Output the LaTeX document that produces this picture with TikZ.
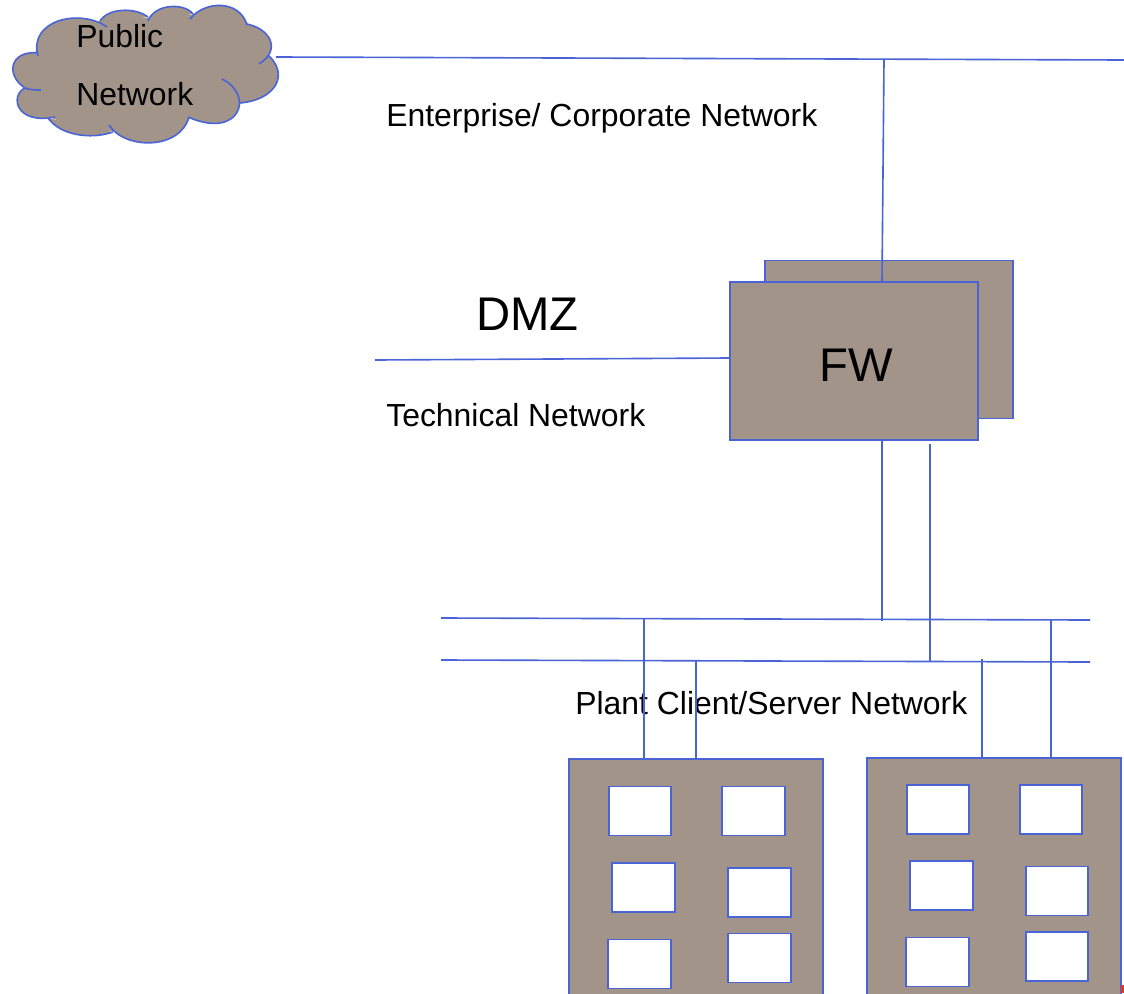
\documentclass[tikz,border=0pt]{standalone}
\usepackage{fontspec}
\setmainfont{Liberation Sans}
\definecolor{netblue}{HTML}{4A64D8}
\definecolor{netbrown}{HTML}{A29488}
\definecolor{netred}{HTML}{E0391E}
\tikzset{
    netline/.style={draw=netblue, line width=1.15pt},
    unit/.style={netline, fill=netbrown, inner sep=0cm, outer sep=0cm},
    firewall/.style={unit, minimum width=6.2cm, minimum height=3.95cm},
    building/.style={unit, minimum width=6.35cm, minimum height=7.5cm},
    window/.style={netline, fill=white, inner sep=0cm, outer sep=0cm, minimum width=1.56cm, minimum height=1.23cm},
    label/.style={anchor=base west, inner sep=0cm, font=\fontsize{22.7pt}{24pt}\selectfont},
    biglabel/.style={anchor=base west, inner sep=0cm, font=\fontsize{33.6pt}{36pt}\selectfont},
}
\begin{document}
\begin{tikzpicture}[x=0.025cm, y=-0.025cm]
    \clip (0,0) rectangle (1124,993);
    % cloud
    \fill[netbrown] (26,88) -- (18,70) -- (48,38) -- (75,26) -- (100,21) -- (124,15) -- (148,18) -- (170,12) -- (193,15) -- (220,10) -- (240,15) -- (262,38) -- (272,75) -- (252,96) -- (238,104) -- (230,112) -- (215,116) -- (188,118) -- (150,135) -- (113,131) -- (80,130) -- (50,117) -- (40,115) -- (24,104) -- cycle;
    \draw[netline, fill=netbrown] (38,56) .. controls (28,20) and (80,8) .. (107,27)
        (100,21) .. controls (108,8) and (135,7) .. (148,17)
        (148,21) .. controls (155,3) and (185,3) .. (193,14)
        (190,19) .. controls (205,0) and (240,0) .. (247,25)
        (246,24) .. controls (270,28) and (282,50) .. (259,64)
        (268,55) .. controls (290,75) and (275,100) .. (240,103)
        (222,79) .. controls (255,95) and (240,140) .. (188,117)
        (189,117) .. controls (180,150) and (125,150) .. (109,125)
        (113,132) .. controls (90,140) and (60,135) .. (48,118)
        (55,117) .. controls (15,125) and (10,95) .. (25,88) .. controls (30,90) and (35,90) .. (41,90)
        (25,88) .. controls (5,75) and (10,50) .. (38,53);
    \node[label] at (76,47) (PUB) {Public};
    \node[label] at (76,105) (NET) {Network};

    % firewall
    \node[firewall] at (889,339.5) (FWB) {};
    \node[firewall] at (854,361) (FW) {};
    \node[biglabel] at (819,381) (FWT) {FW};
    \node[biglabel] at (476,330) (DMZ) {DMZ};
    \node[label] at (386,126) (ENT) {Enterprise/ Corporate Network};
    \node[label] at (386,426) (TEC) {Technical Network};
    \node[label] at (575,714) (PLT) {Plant Client/Server Network};

    % buildings
    \node[building] at (696,909) (BL) {};
    \node[building] at (994,908) (BR) {};
    \node[window] at (640,811) (WA) {};
    \node[window] at (753.5,811) (WB) {};
    \node[window] at (643.5,887.5) (WC) {};
    \node[window] at (759.5,892.5) (WD) {};
    \node[window] at (639.5,964) (WE) {};
    \node[window] at (759.5,958) (WF) {};
    \node[window] at (938,809.5) (WG) {};
    \node[window] at (1051,809.5) (WH) {};
    \node[window] at (941.5,885.5) (WI) {};
    \node[window] at (1057,891) (WJ) {};
    \node[window] at (937.5,962) (WK) {};
    \node[window] at (1057,956.5) (WL) {};
    \fill[netred] (1121,985) rectangle (1124,993);

    % network lines
    \coordinate (TOPL) at (276,57);
    \coordinate (TOPR) at (1124,60);
    \coordinate (TOPT) at (884,60);
    \coordinate (DMZL) at (375,360);
    \coordinate (BUSAL) at (441,618);
    \coordinate (BUSAR) at (1090,620);
    \coordinate (BUSBL) at (441,660);
    \coordinate (BUSBR) at (1090,662);
    \coordinate (TAPA) at (882,621);
    \coordinate (TAPB) at (930,662);
    \coordinate (TAPBT) at (930,444);
    \coordinate (TAPC) at (644,619);
    \coordinate (TAPD) at (696,661);
    \coordinate (TAPE) at (982,659);
    \coordinate (TAPF) at (1051,620);
    \draw[netline] (TOPL) -- (TOPR);
    \draw[netline] (TOPT) -- (FW.north -| 882,0);
    \draw[netline] (DMZL) -- (FW.west |- 0,358);
    \draw[netline] (FW.south -| TAPA) -- (TAPA);
    \draw[netline] (TAPBT) -- (TAPB);
    \draw[netline] (BUSAL) -- (BUSAR);
    \draw[netline] (BUSBL) -- (BUSBR);
    \draw[netline] (TAPC) -- (BL.north -| TAPC);
    \draw[netline] (TAPD) -- (BL.north -| TAPD);
    \draw[netline] (TAPE) -- (BR.north -| TAPE);
    \draw[netline] (TAPF) -- (BR.north -| TAPF);
\end{tikzpicture}
\end{document}
